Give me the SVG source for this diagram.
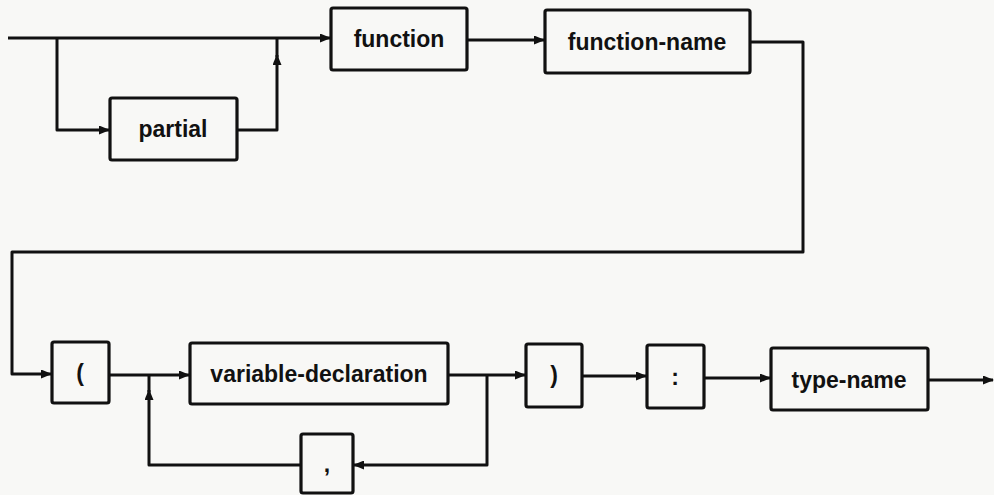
<svg xmlns="http://www.w3.org/2000/svg" width="994" height="495" viewBox="0 0 994 495">
<defs>
<marker id="arr" markerUnits="userSpaceOnUse" markerWidth="11" markerHeight="9" refX="10" refY="4.5" orient="auto">
<path d="M0,0 L11,4.5 L0,9 z" fill="#111"/>
</marker>
<style>
.box{fill:none;stroke:#111;stroke-width:3.2;}
.lbl{font-family:"Liberation Sans",Arial,sans-serif;font-weight:bold;font-size:23px;fill:#111;text-anchor:middle;}
.ln{fill:none;stroke:#111;stroke-width:3;stroke-linejoin:round;}
</style>
</defs>
<rect width="994" height="495" fill="#f8f8f6"/>
<g id="connectors">
<path class="ln" d="M8,38 H330" marker-end="url(#arr)"/>
<path class="ln" d="M57,38 V130 H109" marker-end="url(#arr)"/>
<path class="ln" d="M237,130 H277 V55" marker-end="url(#arr)"/>
<path class="ln" d="M277,57 V38"/>
<path class="ln" d="M467,40 H544" marker-end="url(#arr)"/>
<path class="ln" d="M750,42 H803 V252 H12 V374 H51" marker-end="url(#arr)"/>
<path class="ln" d="M109,375 H189" marker-end="url(#arr)"/>
<path class="ln" d="M301,465 H149 V390" marker-end="url(#arr)"/>
<path class="ln" d="M149,392 V375"/>
<path class="ln" d="M448,375 H525" marker-end="url(#arr)"/>
<path class="ln" d="M487,375 V465 H354" marker-end="url(#arr)"/>
<path class="ln" d="M582,376 H646" marker-end="url(#arr)"/>
<path class="ln" d="M704,378 H770" marker-end="url(#arr)"/>
<path class="ln" d="M928,380 H993" marker-end="url(#arr)"/>
</g>
<g id="partial"><rect class="box" x="110" y="98" width="127" height="62" rx="2"/><text class="lbl" x="173" y="137">partial</text></g>
<g id="function"><rect class="box" x="331" y="8" width="136" height="62" rx="2"/><text class="lbl" x="399" y="47">function</text></g>
<g id="function-name"><rect class="box" x="545" y="10" width="205" height="63" rx="2"/><text class="lbl" x="647" y="50">function-name</text></g>
<g id="lparen"><rect class="box" x="52" y="342" width="57" height="61" rx="2"/><text class="lbl" x="80" y="381">(</text></g>
<g id="variable-declaration"><rect class="box" x="190" y="343" width="258" height="61" rx="2"/><text class="lbl" x="319" y="382">variable-declaration</text></g>
<g id="comma"><rect class="box" x="301" y="434" width="52" height="59" rx="2"/><text class="lbl" x="327" y="472">,</text></g>
<g id="rparen"><rect class="box" x="526" y="344" width="56" height="63" rx="2"/><text class="lbl" x="554" y="383">)</text></g>
<g id="colon"><rect class="box" x="647" y="345" width="57" height="63" rx="2"/><text class="lbl" x="675" y="385">:</text></g>
<g id="type-name"><rect class="box" x="771" y="348" width="157" height="62" rx="2"/><text class="lbl" x="849" y="388">type-name</text></g>
</svg>
